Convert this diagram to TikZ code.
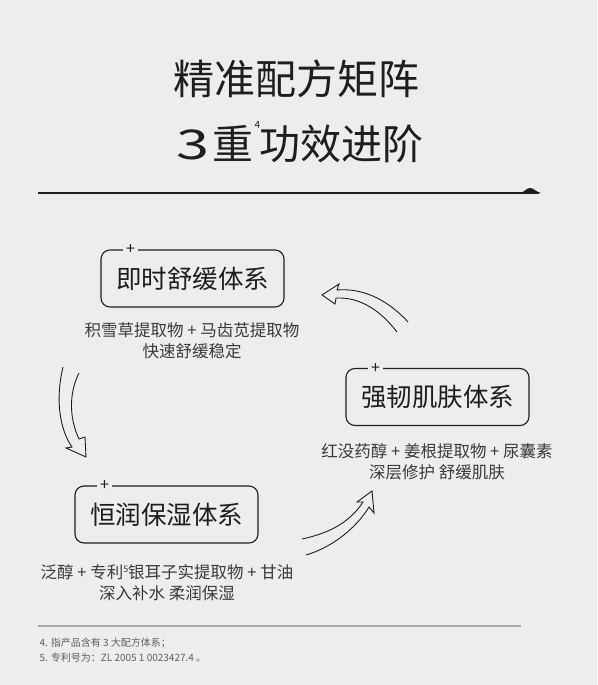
\documentclass[tikz,border=0pt]{standalone}
\usepackage{fontspec}
\setmainfont{Noto Sans CJK SC}
\definecolor{bgcol}{HTML}{EEEDEB}
\definecolor{inkcol}{HTML}{1E1E1E}
\definecolor{subcol}{HTML}{3A3A3A}
\definecolor{notecol}{HTML}{5E5E5E}
\definecolor{rulecol}{HTML}{A9A7A4}
\tikzset{
  sysbox/.style={draw=inkcol, line width=1.1pt, rounded corners=9pt, minimum width=183pt,
    minimum height=57pt, inner sep=0pt, text=inkcol, font=\fontsize{25.5}{25}\selectfont},
  plusmark/.style={fill=bgcol, inner xsep=3.5pt, inner ysep=0pt, text=inkcol, font=\fontsize{16}{16}\selectfont},
  desc/.style={text=subcol, font=\fontsize{16.5}{21}\selectfont, align=center},
  flowarrow/.style={draw=inkcol, line width=0.9pt, line join=miter},
  note/.style={anchor=west, text=notecol, font=\fontsize{10}{15}\selectfont}
}
\begin{document}
\begin{tikzpicture}[x=1pt,y=-1pt]
\useasboundingbox[fill=bgcol] (0,0) rectangle (597,685);
% title
\node[text=inkcol, font=\fontsize{41}{41}\selectfont] (t1) at (296,79) {精准配方矩阵};
\node[text=inkcol, font=\fontsize{41}{41}\selectfont] (t2) at (300,142)
  {\scalebox{1.45}[1]{3}\hspace{3pt}重\hspace{1pt}\raisebox{31pt}{\fontsize{10}{10}\selectfont 4}\hspace{-1pt}功效进阶};
\draw[inkcol, line width=1.1pt] (38,193) -- (539,193);
\fill[inkcol] (519,193) .. controls (525,192.5) and (526,188) .. (530,188) .. controls (534,188) and (535,191.5) .. (541,193) -- cycle;
% three systems
\node[sysbox] (b1) at (192.5,278.5) {即时舒缓体系};
\node[sysbox] (b3) at (437.5,397) {强韧肌肤体系};
\node[sysbox] (b2) at (166.5,514.5) {恒润保湿体系};
\node[plusmark] (p1) at ([xshift=30pt,yshift=-0.5pt]b1.north west) {+};
\node[plusmark] (p3) at ([xshift=30pt,yshift=-0.5pt]b3.north west) {+};
\node[plusmark] (p2) at ([xshift=30pt,yshift=-0.5pt]b2.north west) {+};
\node[desc] (d1) at (192,341) {积雪草提取物 + 马齿苋提取物\\快速舒缓稳定};
\node[desc] (d3) at (437,462) {红没药醇 + 姜根提取物 + 尿囊素\\深层修护 舒缓肌肤};
\node[desc] (d2) at (167,583) {泛醇 + 专利\raisebox{6pt}{\fontsize{9}{9}\selectfont 5}银耳子实提取物 + 甘油\\深入补水 柔润保湿};
% hollow arrows
\draw[flowarrow] (408,322) .. controls (385,297) and (360,288) .. (337,290) -- (339,284) -- (322,295)
  -- (335,304) -- (336,298) .. controls (360,297) and (380,310) .. (397,332);
\draw[flowarrow] (63,367) .. controls (55,400) and (60,430) .. (72,447) -- (66,448) -- (86,457)
  -- (85,437) -- (79,439) .. controls (70,420) and (68,395) .. (79,373);
\draw[flowarrow] (302,539) .. controls (330,533) and (350,522) .. (363,502) -- (357,502) -- (372,491)
  -- (374,513) -- (369,507) .. controls (355,530) and (330,548) .. (306,555);
% notes
\draw[rulecol, line width=1.4pt] (38,626) -- (521,626);
\node[note] (n1) at (36,643) {4. 指产品含有 3 大配方体系；};
\node[note] (n2) at (36,658) {5. 专利号为：ZL 2005 1 0023427.4 。};
\end{tikzpicture}
\end{document}
